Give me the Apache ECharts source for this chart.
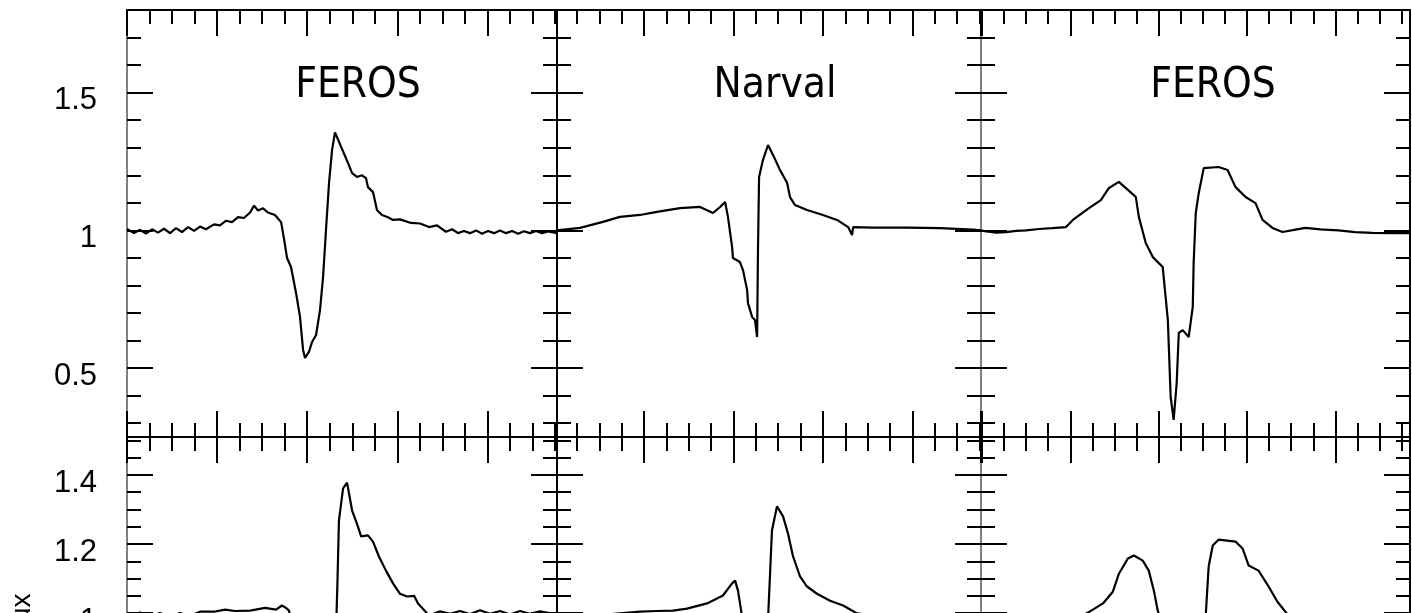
<!DOCTYPE html>
<html>
<head>
<meta charset="utf-8">
<script src="https://cdn.jsdelivr.net/npm/echarts@6.0.0/dist/echarts.min.js"></script>
<style>
  html, body { margin: 0; padding: 0; background: #fff; }
  #chart { width: 1412px; height: 613px; }
</style>
</head>
<body>
<div id="chart"></div>
<script>
// panel titles, top row
const titles = ['FEROS', 'Narval', 'FEROS'];

// x is in axis units (a major tick every 5), y is relative flux
const ferosTop = [
  [0, 1.005], [0.39, 0.99], [0.72, 1.002], [1.05, 0.988], [1.39, 1.004], [1.72, 0.992],
  [2.05, 1.006], [2.39, 0.99], [2.72, 1.008], [3.05, 0.994], [3.39, 1.012], [3.72, 0.998],
  [4.05, 1.014], [4.38, 1.004], [4.83, 1.022], [5.16, 1.018], [5.49, 1.035], [5.83, 1.03],
  [6.16, 1.048], [6.49, 1.045], [6.83, 1.065], [7.05, 1.09], [7.27, 1.072], [7.55, 1.08],
  [7.82, 1.065], [8.21, 1.056], [8.55, 1.03], [8.71, 0.97], [8.88, 0.9], [9.1, 0.867],
  [9.38, 0.773], [9.6, 0.686], [9.77, 0.566], [9.88, 0.537], [10.1, 0.56], [10.27, 0.595],
  [10.49, 0.62], [10.71, 0.711], [10.88, 0.831], [11.04, 1.0], [11.21, 1.172], [11.38, 1.292],
  [11.54, 1.356], [11.71, 1.33], [11.88, 1.303], [12.1, 1.27], [12.26, 1.245], [12.49, 1.208],
  [12.76, 1.194], [13.04, 1.2], [13.26, 1.19], [13.37, 1.157], [13.65, 1.139], [13.87, 1.074],
  [14.15, 1.056], [14.48, 1.048], [14.76, 1.038], [15.15, 1.04], [15.76, 1.027], [16.26, 1.025],
  [16.76, 1.012], [17.2, 1.018], [17.7, 0.995], [18.04, 1.004], [18.37, 0.99], [18.7, 0.998],
  [19.03, 0.99], [19.37, 1.0], [19.7, 0.988], [20.03, 0.998], [20.37, 0.99], [20.7, 1.0],
  [21.03, 0.99], [21.37, 0.998], [21.7, 0.988], [22.03, 0.997], [22.36, 0.99], [22.7, 0.998],
  [23.03, 0.99], [23.36, 0.996], [23.86, 0.99]
];
const narvalTop = [
  [0.13, 1.0], [1.42, 1.009], [2.7, 1.031], [3.65, 1.049], [4.77, 1.056], [5.72, 1.067],
  [7.01, 1.081], [8.13, 1.085], [8.85, 1.063], [9.25, 1.085], [9.53, 1.103], [9.69, 1.049],
  [9.92, 0.94], [9.97, 0.9], [10.36, 0.885], [10.53, 0.856], [10.76, 0.784], [10.81, 0.736],
  [11.04, 0.686], [11.2, 0.675], [11.32, 0.613], [11.37, 0.932], [11.43, 1.194], [11.65, 1.256],
  [11.93, 1.31], [12.21, 1.274], [12.6, 1.219], [13.0, 1.172], [13.16, 1.121], [13.44, 1.092],
  [14.11, 1.074], [15.0, 1.056], [15.79, 1.038], [16.41, 1.012], [16.63, 0.983], [16.69, 1.012],
  [17.8, 1.01], [19.7, 1.01], [21.55, 1.008], [23.4, 1.003], [23.84, 1.0]
];
const feros2Top = [
  [-0.05, 1.0], [0.24, 0.996], [0.81, 0.992], [1.37, 0.994], [1.94, 0.998], [2.5, 1.0],
  [3.24, 1.005], [3.97, 1.008], [4.76, 1.012], [5.15, 1.038], [5.61, 1.06], [6.06, 1.081],
  [6.73, 1.11], [7.19, 1.154], [7.75, 1.176], [8.26, 1.147], [8.71, 1.121], [8.88, 1.049],
  [9.27, 0.954], [9.67, 0.903], [10.23, 0.867], [10.52, 0.675], [10.68, 0.395], [10.85, 0.312],
  [11.02, 0.446], [11.14, 0.628], [11.36, 0.638], [11.7, 0.613], [11.93, 0.722], [11.98, 0.882],
  [12.1, 1.063], [12.27, 1.136], [12.55, 1.226], [13.4, 1.23], [13.9, 1.219], [14.35, 1.157],
  [14.92, 1.121], [15.48, 1.099], [15.88, 1.038], [16.44, 1.009], [17.01, 0.994], [17.74, 1.003],
  [18.3, 1.009], [19.15, 1.004], [20.17, 1.0], [21.12, 0.994], [22.08, 0.991], [23.1, 0.99],
  [24.22, 0.99]
];

// bottom row (cut off by the frame below flux ~0.99)
const ferosBottom = [
  [0, 0.995], [0.28, 0.993], [0.72, 1.002], [1.28, 0.99], [1.83, 1.0], [2.39, 0.99],
  [2.94, 1.0], [3.5, 0.992], [4.05, 1.004], [4.83, 1.004], [5.44, 1.01], [5.99, 1.006],
  [6.83, 1.007], [7.66, 1.015], [8.27, 1.01], [8.6, 1.022], [8.82, 1.015], [8.99, 1.007],
  [9.21, 0.95], [9.6, 0.8], [9.88, 0.6], [10.27, 0.62], [10.71, 0.7], [11.27, 0.85],
  [11.6, 0.95], [11.68, 1.094], [11.76, 1.268], [11.99, 1.361], [12.21, 1.378], [12.49, 1.297],
  [12.76, 1.259], [12.99, 1.222], [13.37, 1.225], [13.65, 1.207], [13.98, 1.164], [14.37, 1.123],
  [14.76, 1.086], [15.15, 1.056], [15.54, 1.048], [15.93, 1.05], [16.15, 1.028], [16.76, 0.993],
  [17.37, 1.005], [17.92, 0.998], [18.48, 1.006], [19.03, 0.997], [19.59, 1.008], [20.14, 0.998],
  [20.7, 1.006], [21.25, 0.996], [21.81, 1.006], [22.36, 0.998], [22.92, 1.005], [23.86, 0.996]
];
const narvalBottom = [
  [0.13, 0.99], [1.02, 0.993], [1.98, 0.996], [2.93, 0.996], [3.82, 1.0], [4.77, 1.004],
  [5.72, 1.006], [6.62, 1.007], [7.4, 1.013], [8.52, 1.028], [9.41, 1.051], [9.92, 1.086],
  [10.09, 1.094], [10.25, 1.065], [10.48, 0.99], [10.7, 0.85], [11.04, 0.7], [11.32, 0.6],
  [11.6, 0.75], [11.93, 0.98], [12.15, 1.239], [12.43, 1.309], [12.77, 1.28], [13.05, 1.23],
  [13.33, 1.164], [13.72, 1.106], [14.11, 1.077], [14.67, 1.056], [15.4, 1.036], [16.13, 1.022],
  [16.91, 0.999], [17.8, 0.993], [18.75, 0.985], [20.43, 0.982], [22.11, 0.98], [23.84, 0.98]
];
const feros2Bottom = [
  [-0.05, 0.97], [0.81, 0.97], [2.5, 0.975], [4.19, 0.978], [5.04, 0.982], [5.72, 0.993],
  [6.28, 1.01], [6.85, 1.028], [7.41, 1.062], [7.75, 1.114], [8.26, 1.158], [8.6, 1.167],
  [9.1, 1.152], [9.44, 1.123], [9.73, 1.065], [9.95, 1.007], [10.12, 0.98], [10.4, 0.8],
  [10.74, 0.5], [11.08, 0.55], [11.53, 0.6], [12.1, 0.75], [12.49, 0.9], [12.66, 0.99],
  [12.83, 1.135], [13.06, 1.196], [13.4, 1.213], [14.35, 1.207], [14.75, 1.187], [15.09, 1.138],
  [15.65, 1.123], [16.22, 1.077], [16.72, 1.033], [17.34, 0.993], [18.3, 0.975], [20.56, 0.97],
  [24.22, 0.97]
];

const profiles = [[ferosTop, narvalTop, feros2Top], [ferosBottom, narvalBottom, feros2Bottom]];
const xRanges = [[0, 23.86], [0.13, 23.84], [-0.05, 24.22]];
const yRanges = [[0.25, 1.8], [0.45, 1.51]];
const ySplit = [3, 5];
const yMinorSplit = [5, 4];
const yName = 'Flux';

// layout
const colLeft = [127, 557, 981];
const colWidth = [430, 424, 429];
const rowTop = [10, 437];
const rowHeight = [427, 366];

const ink = { color: '#000', width: 2 };
const gray = { color: '#808080', width: 2 };
const labelFont = "'Liberation Sans', Arial, sans-serif";
const titleFont = "'Liberation Sans Narrow', 'DejaVu Sans Condensed', 'Liberation Sans', sans-serif";

function frameAxis(extra) {
  return Object.assign({
    type: 'value',
    axisTick: { show: true, inside: true, length: 26, lineStyle: ink },
    minorTick: { show: true, length: 14, lineStyle: ink },
    axisLabel: { show: false },
    splitLine: { show: false }
  }, extra);
}

const grids = [], xAxes = [], yAxes = [], series = [], graphics = [];
for (let r = 0; r < 2; r++) {
  for (let c = 0; c < 3; c++) {
    const g = grids.length;
    grids.push({
      left: colLeft[c], top: rowTop[r], width: colWidth[c], height: rowHeight[r],
      containLabel: false, outerBoundsMode: 'none'
    });
    for (const pos of ['bottom', 'top']) {
      const x = frameAxis({
        gridIndex: g, position: pos, min: xRanges[c][0], max: xRanges[c][1], splitNumber: 5,
        axisLine: { show: true, onZero: false, lineStyle: ink }
      });
      x.minorTick.splitNumber = 4;
      xAxes.push(x);
    }
    for (const pos of ['left', 'right']) {
      let lineStyle = ink, lineShow = true;
      if (pos === 'left' && c !== 1) lineStyle = gray;
      if (pos === 'right' && c !== 2) lineShow = false;
      const y = frameAxis({
        gridIndex: g, position: pos, min: yRanges[r][0], max: yRanges[r][1], splitNumber: ySplit[r],
        axisLine: { show: lineShow, onZero: false, lineStyle: lineStyle }
      });
      y.minorTick.splitNumber = yMinorSplit[r];
      if (pos === 'left' && c === 0) {
        y.axisLabel = {
          show: true, margin: 30, color: '#000', fontSize: 31, fontFamily: labelFont,
          verticalAlign: 'top', lineHeight: 16, showMinLabel: false, showMaxLabel: false
        };
        if (r === 1) {
          y.name = yName;
          y.nameLocation = 'middle';
          y.nameRotate = 90;
          y.nameGap = 91;
          y.nameTextStyle = { color: '#000', fontSize: 28, fontFamily: labelFont };
        }
      }
      yAxes.push(y);
    }
    series.push({
      type: 'line', xAxisIndex: 2 * g, yAxisIndex: 2 * g,
      data: profiles[r][c], showSymbol: false, silent: true,
      lineStyle: { color: '#000', width: 2.2 }
    });
  }
}

const titleX = [358, 775, 1213];
titles.forEach((t, i) => graphics.push({
  type: 'text', x: titleX[i], y: 86, silent: true,
  style: { text: t, fill: '#000', fontSize: 42, fontFamily: titleFont, textAlign: 'center', textVerticalAlign: 'middle' }
}));

const chart = echarts.init(document.getElementById('chart'), null, { renderer: 'canvas' });
chart.setOption({
  animation: false,
  backgroundColor: '#fff',
  grid: grids,
  xAxis: xAxes,
  yAxis: yAxes,
  series: series,
  graphic: graphics
});
</script>
</body>
</html>
